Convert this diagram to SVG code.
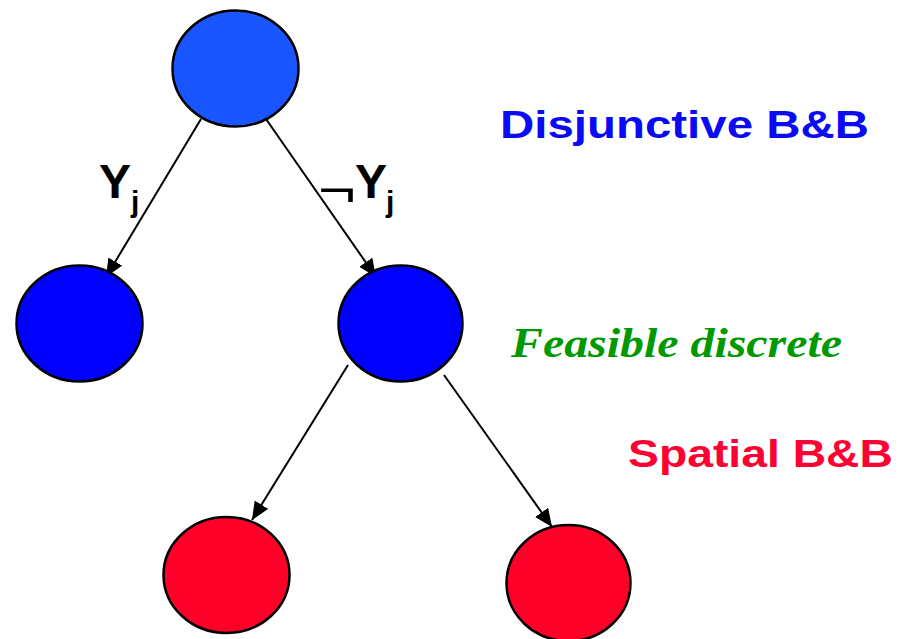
<svg xmlns="http://www.w3.org/2000/svg" width="903" height="639" viewBox="0 0 903 639">
<style>
.node{stroke:#000;stroke-width:2.5}
.edge{stroke:#000;stroke-width:2;fill:none;marker-end:url(#ah)}
.lbl{font-family:"Liberation Sans",Arial,sans-serif;font-weight:bold;fill:#000}
.big{font-family:"Liberation Sans",Arial,sans-serif;font-weight:bold;font-size:39px}
</style>
<defs>
<marker id="ah" markerUnits="userSpaceOnUse" markerWidth="20" markerHeight="16" refX="18" refY="8" orient="auto">
<path d="M0,0 L18,8 L0,16 Z" fill="#000"/>
</marker>
</defs>
<rect width="903" height="639" fill="#fff"/>
<g id="connectors">
<line class="edge" x1="201" y1="119" x2="106" y2="277"/>
<line class="edge" x1="266" y1="119" x2="376" y2="277"/>
<line class="edge" x1="348" y1="365" x2="252" y2="520"/>
<line class="edge" x1="444" y1="375" x2="552" y2="527"/>
</g>
<g id="root"><ellipse class="node" cx="235.5" cy="68.5" rx="63" ry="58" fill="#1A56FF"/></g>
<g id="left"><ellipse class="node" cx="79.5" cy="323.5" rx="63" ry="58" fill="#0000FF"/></g>
<g id="right"><ellipse class="node" cx="400.5" cy="323.5" rx="62" ry="58" fill="#0000FF"/></g>
<g id="bottom-left"><ellipse class="node" cx="226.5" cy="575" rx="63" ry="58" fill="#FF0028"/></g>
<g id="bottom-right"><ellipse class="node" cx="568.5" cy="583" rx="62" ry="58" fill="#FF0028"/></g>
<g id="label-yj">
<text class="lbl" x="99" y="198" font-size="48">Y</text>
<text class="lbl" x="131" y="212" font-size="30">j</text>
</g>
<g id="label-notyj">
<text x="318" y="206" font-family="'Liberation Sans',Arial,sans-serif" font-size="48" fill="#000" textLength="38" lengthAdjust="spacingAndGlyphs">¬</text>
<text class="lbl" x="355" y="198" font-size="48">Y</text>
<text class="lbl" x="386" y="212" font-size="30">j</text>
</g>
<text class="big" x="500" y="138" fill="#0A0AF5" textLength="369" lengthAdjust="spacingAndGlyphs">Disjunctive B&amp;B</text>
<text x="511" y="357" font-family="'Liberation Serif','Times New Roman',serif" font-weight="bold" font-style="italic" font-size="43" fill="#009900" textLength="331" lengthAdjust="spacingAndGlyphs">Feasible discrete</text>
<text class="big" x="628" y="467" fill="#FF0033" textLength="265" lengthAdjust="spacingAndGlyphs">Spatial B&amp;B</text>
</svg>
